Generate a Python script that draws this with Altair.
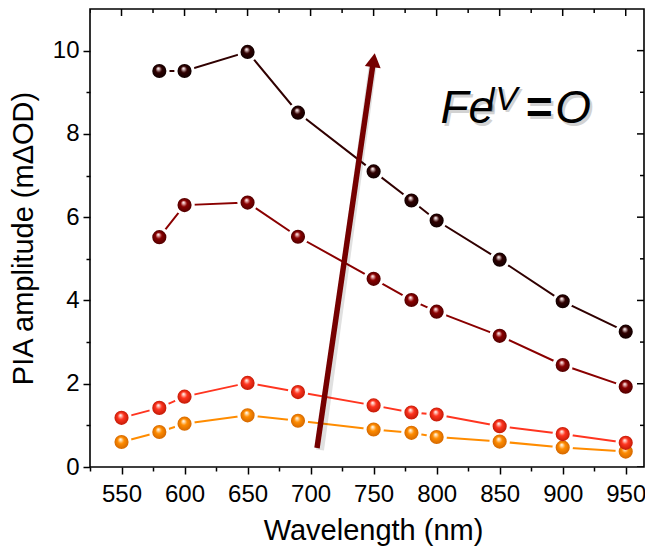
import altair as alt
import pandas as pd

# ---------------- data ----------------
WL_A = [580, 600, 650, 690, 750, 780, 800, 850, 900, 950]
WL_B = [550, 580, 600, 650, 690, 750, 780, 800, 850, 900, 950]
S1 = [9.51, 9.51, 9.97, 8.51, 7.10, 6.40, 5.92, 4.98, 3.98, 3.25]   # darkest
S2 = [5.52, 6.29, 6.35, 5.53, 4.52, 4.01, 3.73, 3.15, 2.45, 1.93]   # maroon
S3 = [1.18, 1.42, 1.69, 2.02, 1.80, 1.48, 1.31, 1.26, 0.98, 0.79, 0.58]  # red
S4 = [0.60, 0.84, 1.04, 1.24, 1.11, 0.90, 0.82, 0.72, 0.61, 0.47, 0.37]  # orange

SERIES = ["s4", "s3", "s2", "s1"]
COLORS = ["#ff8c00", "#ff3520", "#8a0000", "#300000"]
LIGHT = ["#ffe2b8", "#ffcabf", "#eebcbc", "#dcc4c4"]
DARK = ["#d46800", "#c41a06", "#520000", "#100000"]

X_TICKS = list(range(525, 951, 25))
Y_TICKS = list(range(0, 11))

# annotation (arrow + label)
ARROW_X = [705.1, 749.5]
ARROW_Y = [0.456, 9.68]
HEAD_X = [750.1]
HEAD_Y = [9.77]
LABEL_TEXT = ["Fe", "IV", "=", "O"]
LABEL_X = [803.0, 839.5, 870.0, 894.0]
LABEL_Y = [8.26, 8.575, 8.26, 8.26]
LABEL_FS = [46, 33, 46, 46]
LABEL_FW = ["normal", "normal", "bold", "normal"]

FONT = "Liberation Sans"
W, H = 554, 458

rows = []
for name, xs, ys in [("s1", WL_A, S1), ("s2", WL_A, S2), ("s3", WL_B, S3), ("s4", WL_B, S4)]:
    for x, y in zip(xs, ys):
        rows.append({"series": name, "wl": x, "amp": y})
df = pd.DataFrame(rows)

xscale = alt.Scale(domain=[525, 964.5], nice=False, zero=False)
yscale = alt.Scale(domain=[0, 11], nice=False, zero=False)

x_axis = alt.Axis(
    values=X_TICKS,
    labelExpr="datum.value % 50 == 0 ? datum.label : ''",
    tickSize={"condition": {"test": "datum.value % 50 == 0", "value": 7}, "value": 4},
    labelOverlap=False, labelFlush=False,
    labelPadding=8, title="Wavelength (nm)",
    titleX=283, titleY=72.5, titleAlign="center", titleBaseline="alphabetic",
)
y_axis = alt.Axis(
    values=Y_TICKS,
    labelExpr="datum.value % 2 == 0 ? datum.label : ''",
    tickSize={"condition": {"test": "datum.value % 2 == 0", "value": 7}, "value": 4},
    labelOverlap=False, labelFlush=False,
    labelPadding=4, title="PIA amplitude (mΔOD)", titlePadding=14,
)


def X(field):
    return alt.X(field, type="quantitative", scale=xscale, axis=x_axis)


def Y(field):
    return alt.Y(field, type="quantitative", scale=yscale, axis=y_axis)


base = alt.Chart(df)

lines = base.mark_line(strokeWidth=2).encode(
    x=X("wl"), y=Y("amp"),
    color=alt.Color("series:N", scale=alt.Scale(domain=SERIES, range=COLORS), legend=None),
    detail="series:N",
)

halo = base.mark_circle(color="white", opacity=1, size=420).encode(x=X("wl"), y=Y("amp"))

layers = [lines, halo]
for name, c, lt, dk in zip(SERIES, COLORS, LIGHT, DARK):
    grad = {
        "gradient": "radial",
        "x1": 0.42, "y1": 0.30, "r1": 0.0,
        "x2": 0.5, "y2": 0.5, "r2": 0.5,
        "stops": [
            {"offset": 0.0, "color": "#ffffff"},
            {"offset": 0.14, "color": lt},
            {"offset": 0.45, "color": c},
            {"offset": 1.0, "color": dk},
        ],
    }
    layers.append(
        base.transform_filter(alt.datum.series == name)
        .mark_circle(fill=grad, opacity=1, size=200, strokeWidth=0)
        .encode(x=X("wl"), y=Y("amp"))
    )

arrow_df = pd.DataFrame({"wl": [ARROW_X[0]], "amp": [ARROW_Y[0]], "wl2": [ARROW_X[1]], "amp2": [ARROW_Y[1]]})
arrow_shadow = alt.Chart(arrow_df).mark_rule(
    color="black", opacity=0.12, strokeWidth=8, xOffset=3, yOffset=2
).encode(x=X("wl"), y=Y("amp"), x2="wl2:Q", y2="amp2:Q")
arrow = alt.Chart(arrow_df).mark_rule(color="#750000", strokeWidth=5.5, strokeCap="butt").encode(
    x=X("wl"), y=Y("amp"), x2="wl2:Q", y2="amp2:Q"
)
head = alt.Chart(pd.DataFrame({"wl": HEAD_X, "amp": HEAD_Y})).mark_point(
    shape="triangle-up", filled=True, size=256, angle=8.3, color="#750000", opacity=1
).encode(x=X("wl"), y=Y("amp"))
layers += [arrow_shadow, arrow, head]

for t, x, y, fs, fw in zip(LABEL_TEXT, LABEL_X, LABEL_Y, LABEL_FS, LABEL_FW):
    d = pd.DataFrame({"wl": [x], "amp": [y], "t": [t]})
    for shadow in (True, False):
        layers.append(
            alt.Chart(d).mark_text(
                font=FONT, fontStyle="italic", fontSize=fs, fontWeight=fw,
                align="left", baseline="alphabetic",
                color="#808080" if shadow else "black",
                opacity=0.35 if shadow else 1,
                dx=2.5 if shadow else 0, dy=2.5 if shadow else 0,
            ).encode(x=X("wl"), y=Y("amp"), text="t:N")
        )

top_ticks = alt.Chart(pd.DataFrame({"wl": X_TICKS})).mark_tick(
    orient="vertical", clip=True, thickness=1.5, color="black", opacity=1
).encode(
    x=X("wl"),
    y=alt.value(0),
    size=alt.condition("datum.wl % 50 == 0", alt.value(14), alt.value(8)),
)
right_ticks = alt.Chart(pd.DataFrame({"amp": Y_TICKS})).mark_tick(
    orient="horizontal", clip=True, thickness=1.5, color="black", opacity=1
).encode(
    y=Y("amp"),
    x=alt.value(W),
    size=alt.condition("datum.amp % 2 == 0", alt.value(14), alt.value(8)),
)
layers += [top_ticks, right_ticks]

chart = alt.layer(*layers).properties(
    width=W, height=H,
    autosize=alt.AutoSizeParams(type="none"),
    padding={"left": 82, "top": 1, "right": 1, "bottom": 79},
).configure_view(
    stroke="black", strokeWidth=1.6
).configure_axis(
    labelFont=FONT, titleFont=FONT, labelFontSize=24, titleFontSize=29,
    labelColor="black", titleColor="black", tickColor="black", tickWidth=1.5,
    domain=False, grid=False, titleFontWeight="normal",
)

chart.save("out.html", embed_options={"renderer": "svg", "actions": False})
